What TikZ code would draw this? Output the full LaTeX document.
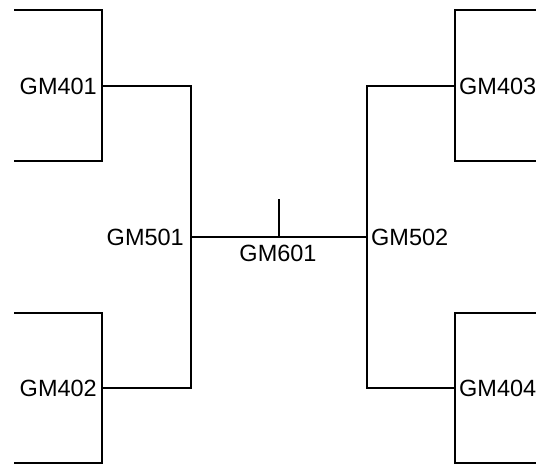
\documentclass[tikz,border=0pt]{standalone}
\usepackage{fontspec}
\setmainfont{Liberation Sans}
\begin{document}
\begin{tikzpicture}[x=1pt,y=-1pt,
  ln/.style={line width=1.6pt,draw=black},
  lbl/.style={inner sep=0pt,font=\fontsize{23.5}{28}\selectfont}]
\useasboundingbox (0,0) rectangle (536,464);
\begin{scope}
\clip (0,0) rectangle (536,464);
% bracket shapes
\draw[ln] (14,10) -- (102,10) -- (102,161) -- (14,161);
\draw[ln] (14,313) -- (102,313) -- (102,463) -- (14,463);
\draw[ln] (540,10) -- (455,10) -- (455,161) -- (540,161);
\draw[ln] (540,313) -- (455,313) -- (455,463) -- (540,463);
% anchor points
\coordinate (p401) at (102,86);
\coordinate (p402) at (102,388);
\coordinate (p403) at (455,86);
\coordinate (p404) at (455,388);
\coordinate (p501) at (191,237);
\coordinate (p502) at (367,237);
\coordinate (p601) at (279,237);
\coordinate (t601) at (279,199);
% labels
\node[lbl,anchor=east] (GM401) at (97,86) {GM401};
\node[lbl,anchor=east] (GM402) at (97,388) {GM402};
\node[lbl,anchor=west] (GM403) at (459,86) {GM403};
\node[lbl,anchor=west] (GM404) at (459,388) {GM404};
\node[lbl,anchor=east] (GM501) at (184,237) {GM501};
\node[lbl,anchor=west] (GM502) at (371,237) {GM502};
\node[lbl] (GM601) at (278,253) {GM601};
% connectors
\draw[ln] (p401) -| (p501);
\draw[ln] (p402) -| (p501);
\draw[ln] (p403) -| (p502);
\draw[ln] (p404) -| (p502);
\draw[ln] (p501) -- (p502);
\draw[ln] (t601) -- (p601);
\end{scope}
\end{tikzpicture}
\end{document}
